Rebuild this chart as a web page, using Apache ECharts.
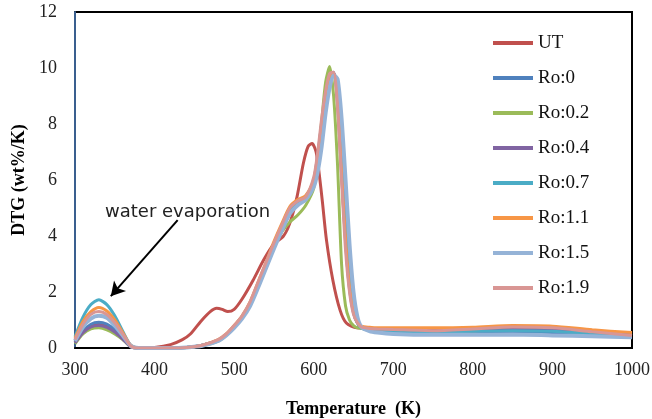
<!DOCTYPE html>
<html><head><meta charset="utf-8">
<script src="https://cdn.jsdelivr.net/npm/echarts@6/dist/echarts.min.js"></script>
<style>html,body{margin:0;padding:0;background:#fff}#c{width:652px;height:419px}</style>
</head><body><div id="c"></div>
<script>
const seriesNames = ['UT','Ro:0','Ro:0.2','Ro:0.4','Ro:0.7','Ro:1.1','Ro:1.5','Ro:1.9'];
const xTicks = [300,400,500,600,700,800,900,1000];
const yTicks = [0,2,4,6,8,10,12];

const tempUT = [300,310,320,330,340,350,360,370,380,400,
  420,435,445,458,470,478,485,492,500,510,
  524,537,549,562,570,579,587,593,598,603,
  607,611,616,624,633,641,654,680,700,750,
  800,850,900,950,1000];
const valUT = [0.2,0.55,0.78,0.85,0.78,0.6,0.35,0.05,0,0.02,
  0.12,0.3,0.5,0.95,1.3,1.42,1.38,1.3,1.38,1.75,
  2.43,3.14,3.68,4.0,4.46,5.4,6.6,7.2,7.3,7.0,
  6.2,5.2,3.86,2.43,1.36,0.89,0.72,0.7,0.7,0.68,
  0.62,0.65,0.65,0.55,0.5];

const tempRo = [300,310,320,330,340,350,360,370,380,400,
  420,440,460,480,490,500,510,520,530,540,
  550,560,570,580,590,600,605,610,615,620,
  625,630,635,640,645,650,655,660,670,680,
  700,750,800,850,900,950,1000];
const valRo0 = [0.2,0.6,0.85,0.92,0.85,0.65,0.35,0.05,0,0,
  0,0.02,0.1,0.27,0.47,0.75,1.1,1.55,2.2,2.9,
  3.6,4.3,4.9,5.2,5.35,5.9,6.5,7.5,8.7,9.5,
  9.8,9.4,7.6,5.2,3.0,1.6,0.95,0.72,0.62,0.58,
  0.55,0.52,0.54,0.56,0.55,0.48,0.42];
const valRo02 = [0.15,0.5,0.68,0.72,0.65,0.5,0.3,0.05,0,0,
  0,0.02,0.08,0.25,0.45,0.75,1.1,1.6,2.25,2.95,
  3.6,4.15,4.5,4.75,5.1,5.7,6.7,8.1,9.5,10.05,
  9.0,6.5,3.0,1.5,1.0,0.8,0.72,0.7,0.68,0.66,
  0.64,0.6,0.62,0.68,0.68,0.6,0.5];
const valRo04 = [0.18,0.55,0.75,0.8,0.74,0.57,0.32,0.05,0,0,
  0,0.02,0.1,0.28,0.48,0.78,1.12,1.6,2.3,3.0,
  3.7,4.35,4.95,5.2,5.35,6.0,6.9,8.0,9.0,9.75,
  9.85,8.7,6.2,3.8,2.1,1.25,0.88,0.75,0.68,0.65,
  0.63,0.6,0.62,0.66,0.65,0.55,0.46];
const valRo07 = [0.4,1.1,1.55,1.72,1.55,1.15,0.6,0.1,0,0,
  0,0.02,0.1,0.28,0.48,0.78,1.12,1.6,2.25,2.95,
  3.65,4.3,4.9,5.15,5.3,5.9,6.7,7.8,8.9,9.7,
  9.8,8.9,6.6,4.2,2.4,1.3,0.9,0.72,0.65,0.62,
  0.6,0.58,0.6,0.62,0.6,0.52,0.45];
const valRo11 = [0.35,0.95,1.3,1.45,1.32,1.0,0.55,0.1,0,0,
  0,0.02,0.1,0.3,0.5,0.8,1.15,1.65,2.35,3.05,
  3.8,4.45,5.05,5.3,5.45,6.0,6.8,7.9,8.9,9.7,
  9.8,8.8,6.3,3.9,2.2,1.3,0.9,0.78,0.74,0.72,
  0.72,0.72,0.74,0.8,0.78,0.65,0.55];
const valRo15 = [0.25,0.75,1.05,1.15,1.08,0.8,0.45,0.08,0,0,
  0,0.02,0.08,0.25,0.45,0.72,1.05,1.5,2.15,2.85,
  3.55,4.2,4.8,5.1,5.3,5.75,6.3,7.2,8.4,9.3,
  9.75,9.6,8.2,6.0,3.7,2.0,1.1,0.75,0.6,0.55,
  0.5,0.47,0.47,0.48,0.45,0.42,0.38];
const valRo19 = [0.3,0.85,1.2,1.3,1.2,0.9,0.5,0.08,0,0,
  0,0.02,0.1,0.3,0.5,0.8,1.15,1.65,2.35,3.05,
  3.75,4.4,5.0,5.25,5.4,6.1,7.0,8.2,9.2,9.8,
  9.85,8.6,6.0,3.5,2.0,1.2,0.9,0.75,0.7,0.68,
  0.66,0.62,0.68,0.75,0.72,0.58,0.45];

const colors = ['#C0504D','#4F81BD','#9BBB59','#8064A2','#4BACC6','#F79646','#95B3D7','#D99694'];
const widths = [3,3,3,3,3,3,4,3];
const temps = [tempUT,tempRo,tempRo,tempRo,tempRo,tempRo,tempRo,tempRo];
const vals = [valUT,valRo0,valRo02,valRo04,valRo07,valRo11,valRo15,valRo19];

const serif = 'Liberation Serif';
const series = seriesNames.map((n,i)=>({
  name:n, type:'line', showSymbol:false, smooth:0.25,
  data: temps[i].map((t,k)=>[t, vals[i][k]]),
  lineStyle:{color:colors[i], width:widths[i]},
  itemStyle:{color:colors[i]},
  z: 2+i
}));
series[0].markLine = {
  silent:true, symbol:['none','arrow'], symbolSize:[12,14],
  lineStyle:{color:'#000', width:2, type:'solid'},
  label:{show:false},
  data:[[{coord:[429,4.57]},{coord:[345,1.85]}]]
};

const chart = echarts.init(document.getElementById('c'), null, {renderer:'canvas'});
chart.setOption({
  animation:false,
  backgroundColor:'#fff',
  grid:{left:75, right:20, top:12, bottom:71, outerBoundsMode:'none', containLabel:false,
    show:true, borderColor:'#000', borderWidth:2, backgroundColor:'transparent'},
  legend:{
    orient:'vertical', left:493, top:33, padding:0, itemWidth:40, itemHeight:4, itemGap:15,
    icon:'rect', data:seriesNames,
    textStyle:{fontFamily:serif, fontSize:19, color:'#111', lineHeight:20}
  },
  xAxis:{
    type:'value', min:300, max:1000, interval:100,
    name:'Temperature  (K)', nameLocation:'middle', nameGap:52,
    nameTextStyle:{fontFamily:serif, fontSize:18, fontWeight:'bold', color:'#000'},
    axisLine:{show:true, onZero:false, lineStyle:{color:'#000', width:2}},
    axisTick:{show:false}, splitLine:{show:false},
    axisLabel:{fontFamily:serif, fontSize:18, color:'#222', margin:13,
      formatter:v=>xTicks.includes(v)?String(v):''}
  },
  yAxis:{
    type:'value', min:0, max:12, interval:2,
    name:'DTG (wt%/K)', nameLocation:'middle', nameGap:45,
    nameTextStyle:{fontFamily:serif, fontSize:18, fontWeight:'bold', color:'#000'},
    axisLine:{show:true, lineStyle:{color:'#3A5F8F', width:2}},
    axisTick:{show:false}, splitLine:{show:false},
    axisLabel:{fontFamily:serif, fontSize:18, color:'#222', margin:18,
      formatter:v=>yTicks.includes(v)?String(v):''}
  },
  graphic:[{type:'text', left:105, top:203, silent:true,
    style:{text:'water evaporation', font:'18px "DejaVu Sans"', fill:'#222'}}],
  series: series
});
</script></body></html>
